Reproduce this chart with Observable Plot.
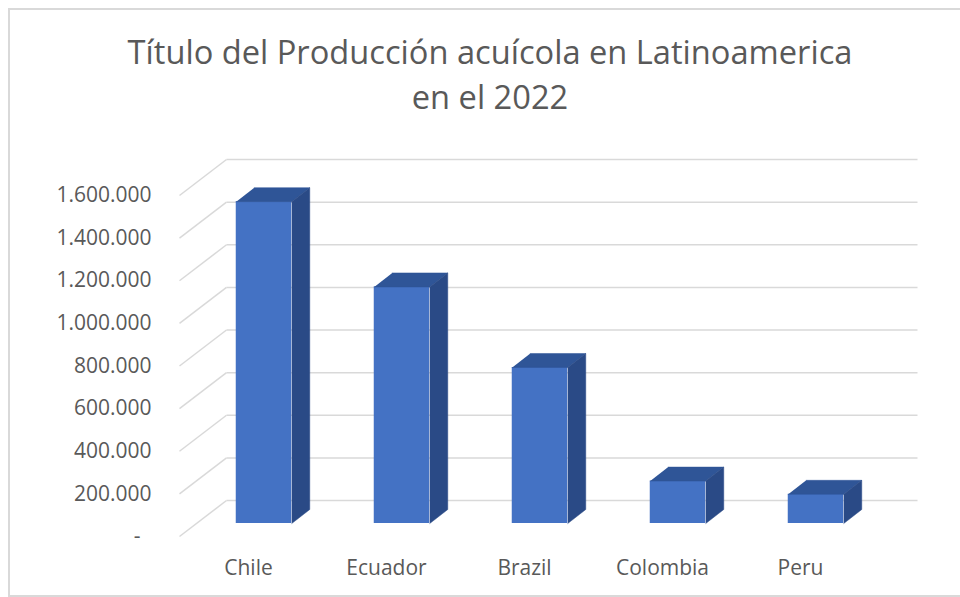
<!DOCTYPE html>
<html><head><meta charset="utf-8">
<script src="https://cdn.jsdelivr.net/npm/d3@7"></script>
<script src="https://cdn.jsdelivr.net/npm/@observablehq/plot@0.6"></script>
<style>
html,body{margin:0;padding:0;width:960px;height:597px;overflow:hidden;background:#fff;}
#frame{position:absolute;left:8px;top:8px;width:952px;height:585px;border:2px solid #d9d9d9;border-right:none;}
#title{position:absolute;left:90px;width:800px;top:29px;text-align:center;color:#595959;font-family:"Open Sans";line-height:45px;white-space:nowrap;}
#chart{position:absolute;left:0;top:120px;}
</style></head><body>
<div id="frame"></div>
<div id="title"><span id="t1">Título del Producción acuícola en Latinoamerica</span><br><span>en el 2022</span></div>
<div id="chart"></div>
<script>
// ---- data ----
const categories = ["Chile", "Ecuador", "Brazil", "Colombia", "Peru"];
const values = [1510000, 1110000, 732000, 199000, 137000];
const yTicks = [0, 200000, 400000, 600000, 800000, 1000000, 1200000, 1400000, 1600000];

// ---- title sizing (fit to reference width) ----
(function(){
  const ctx = document.createElement("canvas").getContext("2d");
  ctx.font = '100px "Open Sans"';
  const w = ctx.measureText(document.getElementById("t1").textContent).width;
  document.getElementById("title").style.fontSize = (100 * 725 / w).toFixed(2) + "px";
})();

// ---- layout constants ----
const W = 960, H = 470, mL = 179, mR = 91, mT = 75, mB = 54;
const xDomain = [-0.5, categories.length - 0.5];
const yDomain = [0, 1600000];
const kx = (W - mL - mR) / (xDomain[1] - xDomain[0]); // px per category
const ky = (H - mT - mB) / (yDomain[1] - yDomain[0]); // px per unit value
const floorDX = 47 / kx, floorDY = 36 / ky;           // wall depth
const gridRight = xDomain[0] + 738 / kx;
const hw = 27.75 / kx;                                 // half bar width
const sx = 18 / kx, sy = 14 / ky;                      // bar depth
const barDX = 15.5, barDY = -13;

const locale = d3.formatLocale({decimal: ",", thousands: ".", grouping: [3], currency: ["", ""]});
const fmt = v => v === 0 ? "-\u00a0\u00a0" : locale.format(",")(v);

const rows = categories.map((c, i) => ({c, i, v: values[i]}));
const topPts = rows.flatMap(d => [[d.i - hw, d.v], [d.i + hw, d.v], [d.i + hw + sx, d.v + sy], [d.i - hw + sx, d.v + sy]]
  .map(([x, y]) => ({id: d.c, x, y})));
const sidePts = rows.flatMap(d => [[d.i + hw, 0], [d.i + hw + sx, sy], [d.i + hw + sx, d.v + sy], [d.i + hw, d.v]]
  .map(([x, y]) => ({id: d.c, x, y})));

const gridColor = "#d9d9d9";
const plot = Plot.plot({
  width: W, height: H,
  marginLeft: mL, marginRight: mR, marginTop: mT, marginBottom: mB,
  style: {fontFamily: "Open Sans", fontSize: "21px", color: "#595959", background: "transparent", overflow: "visible"},
  x: {domain: xDomain, axis: null},
  y: {domain: yDomain, ticks: yTicks, tickFormat: fmt, tickSize: 0, tickPadding: 28, label: null},
  marks: [
    Plot.link(yTicks, {x1: () => xDomain[0], y1: d => d, x2: () => xDomain[0] + floorDX, y2: d => d + floorDY, stroke: gridColor, strokeWidth: 1.5}),
    Plot.link(yTicks, {x1: () => xDomain[0] + floorDX, y1: d => d + floorDY, x2: () => gridRight, y2: d => d + floorDY, stroke: gridColor, strokeWidth: 1.5}),
    Plot.rect(rows, {x1: d => d.i - hw, x2: d => d.i + hw, y1: () => 0, y2: d => d.v, fill: "#4472C4", dx: barDX, dy: barDY}),
    Plot.line(topPts, {x: "x", y: "y", z: "id", fill: "#2F5597", stroke: "#2F5597", strokeWidth: 0.5, dx: barDX, dy: barDY}),
    Plot.line(sidePts, {x: "x", y: "y", z: "id", fill: "#2A4A86", stroke: "#2A4A86", strokeWidth: 0.5, dx: barDX, dy: barDY}),
    Plot.text(rows, {x: "i", y: () => 0, text: "c", dy: 32, fontSize: 21, fill: "#595959"})
  ]
});
document.getElementById("chart").appendChild(plot);
</script>
</body></html>
